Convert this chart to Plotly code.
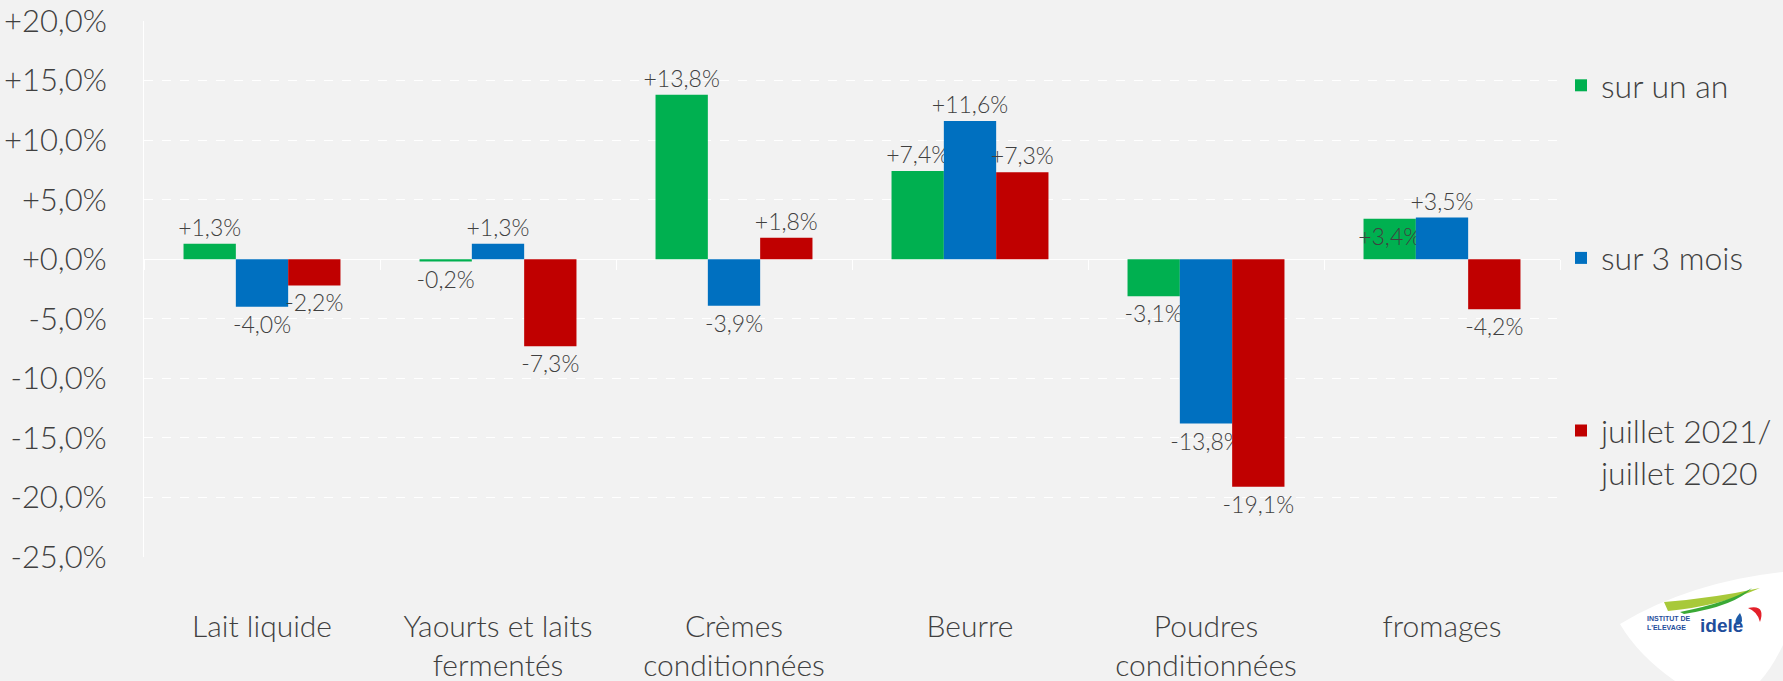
import plotly.graph_objects as go

categories = ["Lait liquide", "Yaourts et laits<br>fermentés", "Crèmes<br>conditionnées",
              "Beurre", "Poudres<br>conditionnées", "fromages"]
series_names = ["sur un an", "sur 3 mois", "juillet 2021/<br>juillet 2020"]
sur_un_an = [1.3, -0.2, 13.8, 7.4, -3.1, 3.4]
sur_3_mois = [-4.0, 1.3, -3.9, 11.6, -13.8, 3.5]
juillet = [-2.2, -7.3, 1.8, 7.3, -19.1, -4.2]
y_ticks = [-25, -20, -15, -10, -5, 0, 5, 10, 15, 20]
y_ticktext = ["-25,0%", "-20,0%", "-15,0%", "-10,0%", "-5,0%", "+0,0%",
              "+5,0%", "+10,0%", "+15,0%", "+20,0%"]

colors = ["#00B050", "#0070C0", "#C00000"]
FONT = "Lato"
TXT = "#404040"
BG = "#F2F2F2"

W, H = 1783, 681
L, R, T, B = 144, 223, 21, 124
YMIN, YMAX = -25, 20


def fmt(v):
    return f"{v:+.1f}%".replace(".", ",")


fig = go.Figure()
for i, (name, vals) in enumerate(zip(series_names, [sur_un_an, sur_3_mois, juillet])):
    pos = ["outside"] * len(vals)
    if i == 0:
        pos[5] = "inside"
    tf = dict(family=FONT, size=23, color=TXT, weight=300)
    fig.add_trace(go.Bar(
        x=categories, y=vals, name=name,
        marker=dict(color=colors[i], line=dict(width=0)),
        text=[fmt(v) for v in vals], textposition=pos,
        textfont=tf, insidetextfont=tf, outsidetextfont=tf,
        insidetextanchor="end", constraintext="none", textangle=0,
        cliponaxis=False, legendgroup=f"g{i}",
    ))

zero_pos = (0 - YMIN) / (YMAX - YMIN)

fig.update_layout(
    width=W, height=H,
    margin=dict(l=L, r=R, t=T, b=B, autoexpand=False),
    paper_bgcolor=BG, plot_bgcolor=BG,
    barmode="group", bargap=0.335, bargroupgap=0,
    font=dict(family=FONT, color=TXT),
    legend=dict(
        xref="container", yref="container",
        x=1561 / W, y=1 - 58 / H, xanchor="left", yanchor="top",
        font=dict(family=FONT, size=32, color=TXT, weight=300),
        tracegroupgap=128, valign="top", bgcolor="rgba(0,0,0,0)",
        itemclick=False, maxheight=640,
    ),
    xaxis=dict(
        anchor="free", position=zero_pos,
        showgrid=False, showline=False, zeroline=False,
        ticks="outside", tickson="boundaries", ticklen=10, tickcolor="white", tickwidth=1,
        ticklabelstandoff=347,
        tickfont=dict(family=FONT, size=30, color=TXT, weight=300),
        automargin=False,
    ),
    yaxis=dict(
        range=[YMIN, YMAX], tickvals=y_ticks, ticktext=y_ticktext,
        showgrid=True, gridcolor="white", griddash="dash", gridwidth=1,
        showline=True, linecolor="white", linewidth=1,
        zeroline=True, zerolinecolor="white", zerolinewidth=1,
        ticks="", ticklabelstandoff=30,
        tickfont=dict(family=FONT, size=31, color=TXT, weight=300),
        automargin=False,
    ),
)


# Logo decoration (paper coords converted from pixel positions)
def px(X):
    return (X - L) / (W - L - R)


def py(Y):
    return (H - B - Y) / (H - B - T)


def path(pts_cmds):
    out = []
    for c, pts in pts_cmds:
        out.append(c + " ".join(f"{px(a):.5f},{py(b):.5f}" for a, b in pts))
    return " ".join(out) + " Z"


leaf = path([("M", [(1620, 624)]), ("Q", [(1690, 582), (1783, 572)]),
             ("L", [(1783, 645)]), ("Q", [(1772, 668), (1760, 681)]),
             ("L", [(1675, 681)]), ("Q", [(1638, 655), (1620, 624)])])
fig.add_shape(type="path", path=leaf, xref="paper", yref="paper",
              fillcolor="white", line=dict(width=0), layer="above")
sw1 = path([("M", [(1664, 602)]), ("Q", [(1715, 598), (1760, 588)]),
            ("Q", [(1720, 606), (1668, 611)])])
fig.add_shape(type="path", path=sw1, xref="paper", yref="paper",
              fillcolor="#A8C93A", line=dict(width=0), layer="above")
sw2 = path([("M", [(1680, 612)]), ("Q", [(1730, 602), (1752, 588)]),
            ("Q", [(1735, 606), (1684, 614)])])
fig.add_shape(type="path", path=sw2, xref="paper", yref="paper",
              fillcolor="#3AA935", line=dict(width=0), layer="above")
drop_b = path([("M", [(1740, 613)]), ("Q", [(1732, 622), (1738, 625)]),
               ("Q", [(1745, 622), (1740, 613)])])
fig.add_shape(type="path", path=drop_b, xref="paper", yref="paper",
              fillcolor="#1F5CA8", line=dict(width=0), layer="above")
drop_r = path([("M", [(1748, 608)]), ("Q", [(1766, 604), (1760, 622)]),
               ("Q", [(1758, 612), (1748, 608)])])
fig.add_shape(type="path", path=drop_r, xref="paper", yref="paper",
              fillcolor="#E3202A", line=dict(width=0), layer="above")
fig.add_annotation(x=px(1692), y=py(633), xref="paper", yref="paper",
                   text="<b>INSTITUT DE<br>L'ELEVAGE</b>", showarrow=False,
                   font=dict(family="Liberation Sans", size=7, color="#1F4E9C"),
                   align="left")
fig.add_annotation(x=px(1745), y=py(638), xref="paper", yref="paper",
                   text="<b>idele</b>", showarrow=False,
                   font=dict(family="Liberation Sans", size=19, color="#1F4E9C"))

fig.write_html("out.html", config={"displayModeBar": False},
               post_script="document.body.style.margin='0';")
